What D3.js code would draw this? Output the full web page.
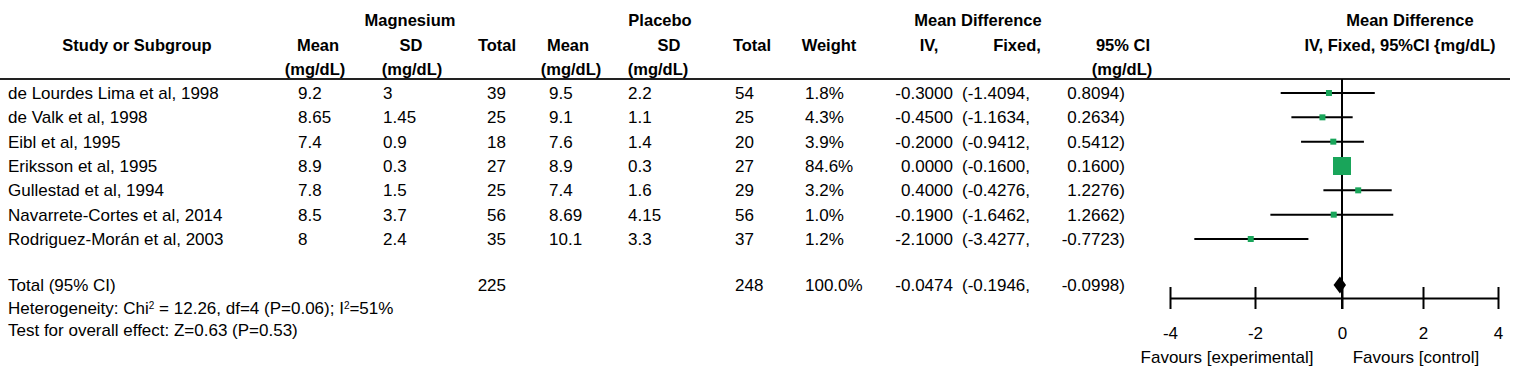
<!DOCTYPE html>
<html><head><meta charset="utf-8">
<script src="https://cdn.jsdelivr.net/npm/d3@7"></script>
<style>
html,body{margin:0;padding:0;background:#fff;}
text{font-family:"Liberation Sans",Arial,sans-serif;font-size:17px;fill:#000;}
.b{font-weight:bold;font-size:16.5px;}
</style></head>
<body>
<svg id="c" width="1518" height="379"></svg>
<script>
// ---- data ----
const studies = ["de Lourdes Lima et al, 1998","de Valk et al, 1998","Eibl et al, 1995","Eriksson et al, 1995","Gullestad et al, 1994","Navarrete-Cortes et al, 2014","Rodriguez-Morán et al, 2003"];
const magMean = [9.2, 8.65, 7.4, 8.9, 7.8, 8.5, 8];
const magSD = [3, 1.45, 0.9, 0.3, 1.5, 3.7, 2.4];
const magTotal = [39, 25, 18, 27, 25, 56, 35];
const plcMean = [9.5, 9.1, 7.6, 8.9, 7.4, 8.69, 10.1];
const plcSD = [2.2, 1.1, 1.4, 0.3, 1.6, 4.15, 3.3];
const plcTotal = [54, 25, 20, 27, 29, 56, 37];
const weights = [1.8, 4.3, 3.9, 84.6, 3.2, 1.0, 1.2];
const md = [-0.3, -0.45, -0.2, 0.0, 0.4, -0.19, -2.1];
const ciLow = [-1.4094, -1.1634, -0.9412, -0.16, -0.4276, -1.6462, -3.4277];
const ciHigh = [0.8094, 0.2634, 0.5412, 0.16, 1.2276, 1.2662, -0.7723];
const totalMag = 225, totalPlc = 248, totalWeight = 100.0;
const totalMD = -0.0474, totalLo = -0.1946, totalHi = -0.0998;
const heterogeneity = {chi2: "12.26", df: 4, p: "0.06", i2: "51%"};
const overall = {z: "0.63", p: "0.53"};
const axisTicks = [-4, -2, 0, 2, 4];
const favLeft = "Favours [experimental]", favRight = "Favours [control]";

// ---- drawing ----
const svg = d3.select("#c");
const y = d3.scalePoint().domain(studies).range([93, 239]);
const x = d3.scaleLinear().domain(axisTicks).range([1170, 1255, 1342, 1423, 1498]);
const green = "#19a55a";

function txt(g, xp, yp, s, anchor, cls) {
  return g.append("text").attr("x", xp).attr("y", yp).attr("dy", "0.35em")
    .attr("text-anchor", anchor || "start").attr("class", cls || null).text(s);
}

// headers
const H = svg.append("g");
txt(H, 410, 20, "Magnesium", "middle", "b");
txt(H, 660, 20, "Placebo", "middle", "b");
txt(H, 978, 20, "Mean Difference", "middle", "b");
txt(H, 1410, 20, "Mean Difference", "middle", "b");
txt(H, 137, 45, "Study or Subgroup", "middle", "b");
txt(H, 318, 45, "Mean", "middle", "b");
txt(H, 411, 45, "SD", "middle", "b");
txt(H, 497, 45, "Total", "middle", "b");
txt(H, 568, 45, "Mean", "middle", "b");
txt(H, 669, 45, "SD", "middle", "b");
txt(H, 752, 45, "Total", "middle", "b");
txt(H, 829, 45, "Weight", "middle", "b");
txt(H, 929, 45, "IV,", "middle", "b");
txt(H, 1017, 45, "Fixed,", "middle", "b");
txt(H, 1123, 45, "95% CI", "middle", "b");
txt(H, 1400, 45, "IV, Fixed, 95%CI {mg/dL)", "middle", "b");
[315, 412, 571, 658, 1122].forEach(cx => txt(H, cx, 69, "(mg/dL)", "middle", "b"));

svg.append("line").attr("x1", 0).attr("x2", 1510).attr("y1", 79).attr("y2", 79)
  .attr("stroke", "#222").attr("stroke-width", 2);

// rows
const R = svg.append("g");
studies.forEach((s, i) => {
  const yy = y(s);
  txt(R, 8, yy, s);
  txt(R, 298, yy, String(magMean[i]));
  txt(R, 383, yy, String(magSD[i]));
  txt(R, 506, yy, String(magTotal[i]), "end");
  txt(R, 549, yy, String(plcMean[i]));
  txt(R, 628, yy, String(plcSD[i]));
  txt(R, 735, yy, String(plcTotal[i]));
  txt(R, 805, yy, weights[i].toFixed(1) + "%");
  txt(R, 953, yy, md[i].toFixed(4), "end");
  txt(R, 962, yy, "(" + ciLow[i].toFixed(4) + ",");
  txt(R, 1125, yy, ciHigh[i].toFixed(4) + ")", "end");
});

// totals
const yT = 285;
txt(R, 8, yT, "Total (95% CI)");
txt(R, 506, yT, String(totalMag), "end");
txt(R, 735, yT, String(totalPlc));
txt(R, 805, yT, totalWeight.toFixed(1) + "%");
txt(R, 953, yT, totalMD.toFixed(4), "end");
txt(R, 962, yT, "(" + totalLo.toFixed(4) + ",");
txt(R, 1125, yT, totalHi.toFixed(4) + ")", "end");

const het = R.append("text").attr("x", 8).attr("y", 308).attr("dy", "0.35em");
het.append("tspan").text("Heterogeneity: Chi");
het.append("tspan").attr("font-size", "10px").attr("dy", "-5").text("2");
het.append("tspan").attr("dy", "5").text(" = " + heterogeneity.chi2 + ", df=" + heterogeneity.df + " (P=" + heterogeneity.p + "); I");
het.append("tspan").attr("font-size", "10px").attr("dy", "-5").text("2");
het.append("tspan").attr("dy", "5").text("=" + heterogeneity.i2);
txt(R, 8, 330, "Test for overall effect: Z=" + overall.z + " (P=" + overall.p + ")");

// forest plot
const F = svg.append("g");
F.append("line").attr("x1", x(0)).attr("x2", x(0)).attr("y1", 79).attr("y2", 309)
  .attr("stroke", "#000").attr("stroke-width", 2);
studies.forEach((s, i) => {
  const yy = y(s);
  F.append("line").attr("x1", x(ciLow[i])).attr("x2", x(ciHigh[i])).attr("y1", yy).attr("y2", yy)
    .attr("stroke", "#000").attr("stroke-width", 2);
  const side = Math.max(6, 18 * Math.sqrt(weights[i] / 84.6));
  F.append("rect").attr("x", x(md[i]) - side / 2).attr("y", yy - side / 2)
    .attr("width", side).attr("height", side).attr("fill", green);
});
// diamond
const hiSym = 2 * totalMD - totalLo;
F.append("path").attr("d", `M${x(totalLo)},${yT} L${x(totalMD)},${yT - 8.5} L${x(hiSym)},${yT} L${x(totalMD)},${yT + 8.5} Z`)
  .attr("fill", "#000");

// axis
const axY = 298;
const ax = F.append("g").attr("transform", `translate(0,${axY})`)
  .call(d3.axisBottom(x).tickValues(axisTicks).tickSize(11).tickSizeOuter(0).tickPadding(18).tickFormat(d => String(d)));
ax.attr("font-family", null).attr("font-size", null);
ax.select(".domain").attr("stroke", "#000").attr("stroke-width", 2);
ax.selectAll(".tick line").attr("y1", -11).attr("y2", 11).attr("stroke", "#000").attr("stroke-width", 2);
ax.selectAll(".tick text").attr("dy", "0.35em").attr("y", 35).attr("fill", "#000");

txt(F, 1227, 357, favLeft, "middle");
txt(F, 1416, 357, favRight, "middle");
</script>
</body></html>
